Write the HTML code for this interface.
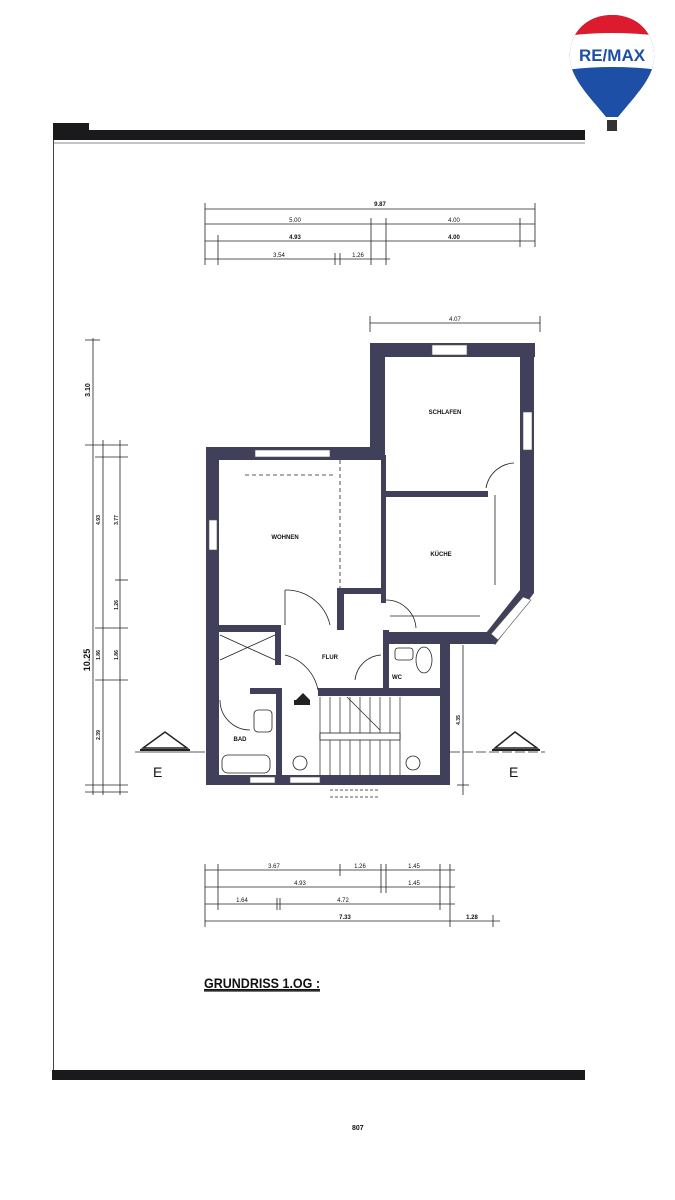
<!DOCTYPE html>
<html><head><meta charset="utf-8"><style>
html,body{margin:0;padding:0;background:#fff;width:675px;height:1200px;overflow:hidden}
svg{display:block}
text{font-family:"Liberation Sans",sans-serif;fill:#111}
</style></head><body>
<svg width="675" height="1200" viewBox="0 0 675 1200" xmlns="http://www.w3.org/2000/svg">
<!-- frame -->
<rect x="53" y="123" width="36" height="10" fill="#1a1a1c"/>
<rect x="53" y="130" width="532" height="10" fill="#1a1a1c"/>
<line x1="53" y1="143" x2="585" y2="143" stroke="#888" stroke-width="1"/>
<line x1="53.5" y1="140" x2="53.5" y2="1072" stroke="#444" stroke-width="1"/>
<rect x="52" y="1070" width="533" height="10" fill="#1a1a1c"/>
<text x="352" y="1130" font-size="7" font-weight="bold">807</text>

<!-- logo -->
<defs><clipPath id="bal"><path d="M612 15 C585 15 568 35 570 60 C572 80 590 97 606 117 L618 117 C634 97 652 80 654 60 C656 35 639 15 612 15 Z"/></clipPath></defs>
<g clip-path="url(#bal)">
<rect x="565" y="10" width="95" height="115" fill="#1c4fa5"/>
<rect x="565" y="10" width="95" height="32" fill="#dc1c2e"/>
<path d="M565 36 Q612 30 660 36 L660 70 Q612 64 565 70 Z" fill="#fff"/>
</g>
<text x="612" y="61" font-size="17" font-weight="bold" text-anchor="middle" style="fill:#1c4fa5">RE/MAX</text>
<rect x="607" y="120" width="10" height="11" fill="#333"/>

<g stroke="#222" stroke-width="0.8" fill="none">
<!-- top dims -->
<line x1="205" y1="209" x2="535" y2="209"/>
<line x1="205" y1="224" x2="535" y2="224"/>
<line x1="205" y1="241" x2="535" y2="241"/>
<line x1="205" y1="259" x2="390" y2="259"/>
<line x1="205" y1="203" x2="205" y2="265"/><line x1="535" y1="203" x2="535" y2="247"/>
<line x1="218" y1="235" x2="218" y2="265"/><line x1="520" y1="218" x2="520" y2="247"/>
<line x1="371" y1="218" x2="371" y2="265"/><line x1="386" y1="218" x2="386" y2="265"/>
<line x1="335" y1="253" x2="335" y2="265"/><line x1="340" y1="253" x2="340" y2="265"/>
<!-- 4.07 -->
<line x1="370" y1="323" x2="540" y2="323"/>
<line x1="370" y1="316" x2="370" y2="332"/><line x1="540" y1="316" x2="540" y2="332"/>
<!-- left dims -->
<line x1="93" y1="338" x2="93" y2="795"/>
<line x1="103" y1="440" x2="103" y2="795"/>
<line x1="120" y1="440" x2="120" y2="795"/>
<line x1="85" y1="340" x2="100" y2="340"/><line x1="85" y1="445" x2="128" y2="445"/>
<line x1="95" y1="457" x2="128" y2="457"/><line x1="115" y1="580" x2="128" y2="580"/>
<line x1="95" y1="628" x2="128" y2="628"/><line x1="95" y1="680" x2="128" y2="680"/>
<line x1="85" y1="785" x2="128" y2="785"/><line x1="85" y1="792" x2="128" y2="792"/>
<!-- bottom dims -->
<line x1="205" y1="870" x2="455" y2="870"/>
<line x1="205" y1="887" x2="455" y2="887"/>
<line x1="205" y1="904" x2="455" y2="904"/>
<line x1="205" y1="921" x2="500" y2="921"/>
<line x1="205" y1="864" x2="205" y2="927"/><line x1="218" y1="864" x2="218" y2="910"/>
<line x1="340" y1="864" x2="340" y2="876"/><line x1="381" y1="864" x2="381" y2="893"/>
<line x1="386" y1="864" x2="386" y2="893"/><line x1="440" y1="864" x2="440" y2="910"/>
<line x1="450" y1="864" x2="450" y2="927"/><line x1="493" y1="915" x2="493" y2="927"/>
<line x1="277" y1="898" x2="277" y2="910"/><line x1="280" y1="898" x2="280" y2="910"/>
<!-- east dim -->
<line x1="463" y1="645" x2="463" y2="795"/>
<line x1="457" y1="785" x2="469" y2="785"/>
<!-- section lines -->
<line x1="135" y1="752" x2="205" y2="752"/>
<line x1="450" y1="752" x2="545" y2="752" stroke-dasharray="10 3"/>
<path d="M143 748 L165 732 L187 748 Z" stroke-width="1.5"/>
<path d="M495 748 L515 732 L537 748 Z" stroke-width="1.5"/>
<line x1="140" y1="750" x2="190" y2="750" stroke-width="2"/>
<line x1="492" y1="750" x2="540" y2="750" stroke-width="2"/>
</g>
<g font-size="6" text-anchor="middle">
<text x="380" y="206" font-weight="bold">9.87</text>
<text x="295" y="222">5.00</text><text x="454" y="222">4.00</text>
<text x="295" y="239" font-weight="bold">4.93</text><text x="454" y="239" font-weight="bold">4.00</text>
<text x="279" y="257">3.54</text><text x="358" y="257">1.26</text>
<text x="455" y="321">4.07</text>
<text x="274" y="868">3.67</text><text x="360" y="868">1.26</text><text x="414" y="868">1.45</text>
<text x="300" y="885">4.93</text><text x="414" y="885">1.45</text>
<text x="242" y="902">1.64</text><text x="343" y="902">4.72</text>
<text x="345" y="919" font-weight="bold">7.33</text><text x="472" y="919" font-weight="bold">1.28</text>
</g>
<g font-size="7" font-weight="bold" text-anchor="middle">
<text transform="translate(90,390) rotate(-90)">3.10</text>
<text transform="translate(90,660) rotate(-90)" font-size="9">10.25</text>
<text transform="translate(100,520) rotate(-90)" font-size="5">4.93</text>
<text transform="translate(118,520) rotate(-90)" font-size="5">3.77</text>
<text transform="translate(118,605) rotate(-90)" font-size="5">1.26</text>
<text transform="translate(100,655) rotate(-90)" font-size="5">1.86</text>
<text transform="translate(118,655) rotate(-90)" font-size="5">1.86</text>
<text transform="translate(100,735) rotate(-90)" font-size="5">2.39</text>
<text transform="translate(460,720) rotate(-90)" font-size="5">4.35</text>
</g>
<text x="153" y="777" font-size="14">E</text>
<text x="509" y="777" font-size="14">E</text>

<!-- walls -->
<g fill="#40405a">
<rect x="206" y="447" width="13" height="337"/>
<rect x="206" y="447" width="178" height="13"/>
<rect x="370" y="343" width="15" height="117"/>
<rect x="370" y="343" width="165" height="14"/>
<rect x="520" y="343" width="14" height="250"/>
<polygon points="520,590 534,593 495,645 486,633"/>
<rect x="383" y="632" width="112" height="12"/>
<rect x="383" y="491" width="105" height="6"/>
<rect x="381" y="455" width="5" height="148"/>
<rect x="206" y="775" width="244" height="10"/>
<rect x="218" y="625" width="62" height="7"/>
<rect x="275" y="625" width="6" height="40"/>
<rect x="337" y="588" width="46" height="6"/>
<rect x="337" y="588" width="7" height="42"/>
<rect x="383" y="630" width="6" height="58"/>
<rect x="318" y="688" width="132" height="8"/>
<rect x="440" y="640" width="10" height="145"/>
<rect x="250" y="688" width="32" height="6"/>
<rect x="276" y="688" width="6" height="97"/>
</g>
<!-- windows -->
<g fill="#fff" stroke="#555" stroke-width="0.6">
<rect x="255" y="450" width="75" height="7"/>
<rect x="432" y="345" width="35" height="10"/>
<rect x="523" y="412" width="9" height="38"/>
<rect x="209" y="520" width="8" height="30"/>
<polygon points="523,597 531,600 498,640 491,634"/>
<rect x="250" y="777" width="25" height="6"/>
<rect x="290" y="777" width="30" height="6"/>
</g>
<!-- doors -->
<g stroke="#222" stroke-width="0.8" fill="none">
<path d="M285 590 A45 45 0 0 1 330 625"/><line x1="285" y1="590" x2="285" y2="625"/>
<path d="M386 600 A30 30 0 0 1 416 628"/>
<path d="M355 680 A28 28 0 0 1 381 655"/>
<path d="M285 655 A45 45 0 0 1 318 690"/>
<path d="M486 488 A30 30 0 0 1 514 463"/>
<path d="M220 700 A30 30 0 0 0 250 730"/>
<rect x="222" y="755" width="48" height="18" rx="6"/>
<rect x="254" y="710" width="18" height="22" rx="4"/>
<ellipse cx="424" cy="660" rx="8" ry="13"/>
<rect x="395" y="648" width="18" height="12" rx="3"/>
<line x1="220" y1="635" x2="275" y2="660"/><line x1="220" y1="660" x2="275" y2="635"/>
<!-- stairs -->
<g stroke-width="0.7">
<line x1="320" y1="697" x2="320" y2="775"/><line x1="330" y1="697" x2="330" y2="775"/>
<line x1="340" y1="697" x2="340" y2="775"/><line x1="350" y1="697" x2="350" y2="775"/>
<line x1="360" y1="697" x2="360" y2="775"/><line x1="370" y1="697" x2="370" y2="775"/>
<line x1="380" y1="697" x2="380" y2="775"/><line x1="390" y1="697" x2="390" y2="775"/>
<line x1="400" y1="697" x2="400" y2="775"/>
<line x1="347" y1="697" x2="380" y2="730"/>
</g>
<rect x="320" y="733" width="80" height="7" fill="#fff"/>
<circle cx="300" cy="763" r="7"/><circle cx="413" cy="763" r="7"/>
<line x1="495" y1="495" x2="495" y2="585"/>
<line x1="390" y1="616" x2="480" y2="616"/>
<line x1="340" y1="460" x2="340" y2="588" stroke-dasharray="4 3"/>
<line x1="245" y1="475" x2="335" y2="475" stroke-dasharray="4 3"/>
<line x1="330" y1="790" x2="380" y2="790" stroke-dasharray="3 2"/>
<line x1="330" y1="797" x2="380" y2="797" stroke-dasharray="3 2"/>
</g>
<path d="M296 700 L303 693 L310 700 Z" fill="#222"/>
<rect x="294" y="700" width="16" height="5" fill="#222"/>
<g font-size="6" font-weight="bold" text-anchor="middle">
<text x="285" y="539">WOHNEN</text>
<text x="445" y="414">SCHLAFEN</text>
<text x="441" y="556">KÜCHE</text>
<text x="330" y="659">FLUR</text>
<text x="397" y="679">WC</text>
<text x="240" y="741">BAD</text>
</g>
<text x="204" y="988" font-size="14" font-weight="bold" textLength="116" lengthAdjust="spacingAndGlyphs" style="text-decoration:underline">GRUNDRISS 1.OG :</text>
<line x1="204" y1="991" x2="320" y2="991" stroke="#222" stroke-width="1.2"/>
</svg>
</body></html>
